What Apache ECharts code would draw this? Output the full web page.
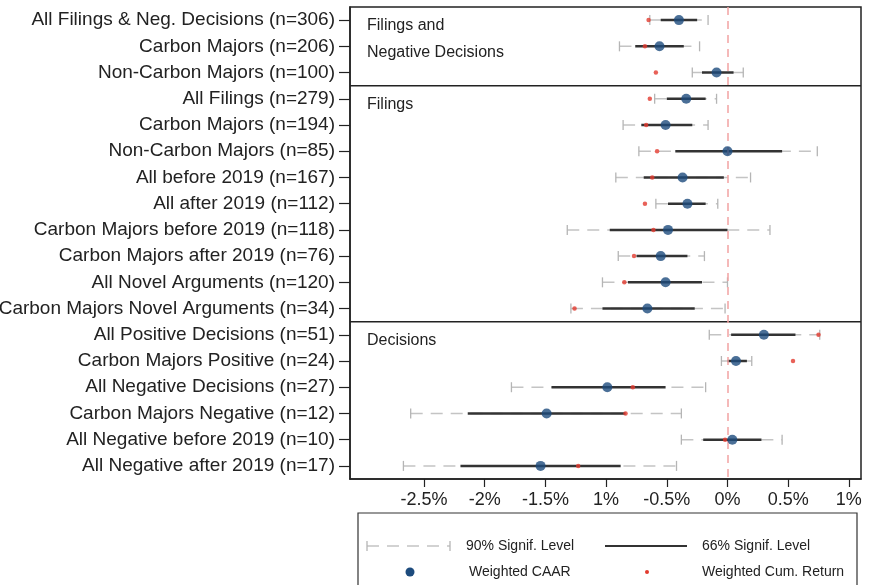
<!DOCTYPE html>
<html>
<head>
<meta charset="utf-8">
<script src="https://cdn.jsdelivr.net/npm/echarts@6/dist/echarts.min.js"></script>
<style>html,body{margin:0;padding:0;background:#fff;}#c{width:871px;height:585px;}</style>
</head>
<body>
<div id="c"></div>
<script>
var categories = [
  "All Filings & Neg. Decisions (n=306)",
  "Carbon Majors (n=206)",
  "Non-Carbon Majors (n=100)",
  "All Filings (n=279)",
  "Carbon Majors (n=194)",
  "Non-Carbon Majors (n=85)",
  "All before 2019 (n=167)",
  "All after 2019 (n=112)",
  "Carbon Majors before 2019 (n=118)",
  "Carbon Majors after 2019 (n=76)",
  "All Novel Arguments (n=120)",
  "Carbon Majors Novel Arguments (n=34)",
  "All Positive Decisions (n=51)",
  "Carbon Majors Positive (n=24)",
  "All Negative Decisions (n=27)",
  "Carbon Majors Negative (n=12)",
  "All Negative before 2019 (n=10)",
  "All Negative after 2019 (n=17)"
];
var caar   = [-0.40,-0.56,-0.09,-0.34,-0.51, 0.00,-0.37,-0.33,-0.49,-0.55,-0.51,-0.66, 0.30, 0.07,-0.99,-1.49, 0.04,-1.54];
var cumRet = [-0.65,-0.68,-0.59,-0.64,-0.67,-0.58,-0.62,-0.68,-0.61,-0.77,-0.85,-1.26, 0.75, 0.54,-0.78,-0.84,-0.02,-1.23];
var lo66   = [-0.55,-0.76,-0.21,-0.50,-0.71,-0.43,-0.69,-0.49,-0.97,-0.75,-0.82,-1.03, 0.03, 0.00,-1.45,-2.14,-0.20,-2.20];
var hi66   = [-0.25,-0.36, 0.05,-0.18,-0.29, 0.45,-0.03,-0.18, 0.00,-0.33,-0.21,-0.27, 0.56, 0.16,-0.51,-0.84, 0.28,-0.88];
var lo90   = [-0.64,-0.89,-0.29,-0.60,-0.86,-0.73,-0.92,-0.59,-1.32,-0.90,-1.03,-1.29,-0.15,-0.05,-1.78,-2.61,-0.38,-2.67];
var hi90   = [-0.16,-0.23, 0.13,-0.09,-0.16, 0.74, 0.19,-0.08, 0.35,-0.19, 0.00,-0.02, 0.76, 0.20,-0.18,-0.38, 0.45,-0.42];
var panelNames = ["Filings and\nNegative Decisions", "Filings", "Decisions"];
var panelSizes = [3, 9, 6];
var tickValues = [-2.5, -2, -1.5, -1, -0.5, 0, 0.5, 1];
var tickLabels = ["-2.5%", "-2%", "-1.5%", "1%", "-0.5%", "0%", "0.5%", "1%"];
var legendLabels = ["90% Signif. Level", "66% Signif. Level", "Weighted CAAR", "Weighted Cum. Return"];

var FONT = '"Liberation Sans", Arial, Helvetica, sans-serif';
var BLUE = '#1d4b7d', RED = '#e23a2e', DARK = '#333333', GRAY = '#c4c4c4', PINK = '#f2a3a3';
var XMIN = -3.11, XMAX = 1.10;

var ciData = categories.map(function (c, i) { return [lo90[i], hi90[i], lo66[i], hi66[i], i]; });
var panelData = [];
var start = 0;
panelSizes.forEach(function (s, k) { panelData.push([start, start + s - 1, k]); start += s; });

var chart = echarts.init(document.getElementById('c'), null, {renderer: 'canvas'});
chart.setOption({
  animation: false,
  textStyle: {fontFamily: FONT},
  grid: {left: 350, right: 10, top: 7, bottom: 106, containLabel: false, outerBoundsMode: 'none', show: true, borderColor: '#222', borderWidth: 1.5, backgroundColor: 'transparent'},
  xAxis: {
    type: 'value', min: XMIN, max: XMAX,
    splitLine: {show: false},
    axisLine: {show: true, onZero: false, lineStyle: {color: '#222', width: 1.5}},
    axisTick: {show: true, length: 8, inside: false, customValues: tickValues, lineStyle: {color: '#222', width: 1.2}},
    axisLabel: {
      customValues: tickValues, fontSize: 18, color: '#222', margin: 12, fontFamily: FONT,
      formatter: function (v) {
        for (var i = 0; i < tickValues.length; i++) if (Math.abs(tickValues[i] - v) < 1e-9) return tickLabels[i];
        return '';
      }
    }
  },
  yAxis: {
    type: 'category', data: categories, inverse: true,
    axisLine: {show: true, onZero: false, lineStyle: {color: '#222', width: 1.5}},
    axisTick: {show: true, alignWithLabel: true, length: 11, lineStyle: {color: '#222', width: 1.2}},
    axisLabel: {fontSize: 19, color: '#222', margin: 15, fontFamily: FONT},
    splitLine: {show: false}
  },
  series: [
    {
      type: 'custom', name: 'panels', z: 1, silent: true,
      data: panelData,
      renderItem: function (params, api) {
        var s = api.value(0), k = api.value(2);
        var band = api.size([0, 1])[1];
        var top = api.coord([XMIN, s])[1] - band / 2;
        var left = api.coord([XMIN, s])[0];
        var right = api.coord([XMAX, s])[0];
        var children = [{
          type: 'text',
          style: {x: left + 17, y: top + 5.5, text: panelNames[k], fontSize: 16, fontFamily: FONT, fill: '#222', lineHeight: 27, verticalAlign: 'top', align: 'left'}
        }];
        if (k > 0) {
          children.push({type: 'line', shape: {x1: left, y1: top, x2: right, y2: top}, style: {stroke: '#222', lineWidth: 1.5}});
        }
        return {type: 'group', children: children};
      },
      markLine: {
        silent: true, symbol: 'none', label: {show: false},
        lineStyle: {color: PINK, type: [8, 6], width: 1.5},
        data: [{xAxis: 0}]
      }
    },
    {
      type: 'custom', name: 'ci', z: 3, silent: true,
      data: ciData,
      renderItem: function (params, api) {
        var idx = api.value(4);
        var p90a = api.coord([api.value(0), idx]);
        var p90b = api.coord([api.value(1), idx]);
        var p66a = api.coord([api.value(2), idx]);
        var p66b = api.coord([api.value(3), idx]);
        var y = p90a[1], h = 5;
        return {type: 'group', children: [
          {type: 'line', shape: {x1: p90a[0], y1: y, x2: p90b[0], y2: y}, style: {stroke: GRAY, lineWidth: 1.5, lineDash: [12, 8]}},
          {type: 'line', shape: {x1: p90a[0], y1: y - h, x2: p90a[0], y2: y + h}, style: {stroke: '#b5b5b5', lineWidth: 1.3}},
          {type: 'line', shape: {x1: p90b[0], y1: y - h, x2: p90b[0], y2: y + h}, style: {stroke: '#b5b5b5', lineWidth: 1.3}},
          {type: 'line', shape: {x1: p66a[0], y1: y, x2: p66b[0], y2: y}, style: {stroke: DARK, lineWidth: 2.5}}
        ]};
      }
    },
    {
      type: 'scatter', name: 'Weighted Cum. Return', z: 4, silent: true,
      symbol: 'circle', symbolSize: 4.5,
      itemStyle: {color: RED},
      data: cumRet.map(function (v, i) { return [v, i]; })
    },
    {
      type: 'scatter', name: 'Weighted CAAR', z: 5, silent: true,
      symbol: 'circle', symbolSize: 10,
      itemStyle: {color: BLUE},
      data: caar.map(function (v, i) { return [v, i]; })
    }
  ],
  graphic: [
    {type: 'rect', shape: {x: 358, y: 513, width: 499, height: 100}, style: {fill: 'none', stroke: '#333', lineWidth: 1.2}, silent: true},
    {type: 'line', shape: {x1: 367, y1: 546, x2: 450, y2: 546}, style: {stroke: GRAY, lineWidth: 1.5, lineDash: [12, 8]}, silent: true},
    {type: 'line', shape: {x1: 367, y1: 541, x2: 367, y2: 551}, style: {stroke: '#b5b5b5', lineWidth: 1.3}, silent: true},
    {type: 'line', shape: {x1: 450, y1: 541, x2: 450, y2: 551}, style: {stroke: '#b5b5b5', lineWidth: 1.3}, silent: true},
    {type: 'text', style: {x: 466, y: 546, text: legendLabels[0], fontSize: 14, fontFamily: FONT, fill: '#222', verticalAlign: 'middle'}, silent: true},
    {type: 'line', shape: {x1: 605, y1: 546, x2: 687, y2: 546}, style: {stroke: DARK, lineWidth: 2}, silent: true},
    {type: 'text', style: {x: 702, y: 546, text: legendLabels[1], fontSize: 14, fontFamily: FONT, fill: '#222', verticalAlign: 'middle'}, silent: true},
    {type: 'circle', shape: {cx: 410, cy: 572, r: 4.5}, style: {fill: BLUE}, silent: true},
    {type: 'text', style: {x: 469, y: 572, text: legendLabels[2], fontSize: 14, fontFamily: FONT, fill: '#222', verticalAlign: 'middle'}, silent: true},
    {type: 'circle', shape: {cx: 647, cy: 572, r: 2}, style: {fill: RED}, silent: true},
    {type: 'text', style: {x: 702, y: 572, text: legendLabels[3], fontSize: 14, fontFamily: FONT, fill: '#222', verticalAlign: 'middle'}, silent: true}
  ]
});
</script>
</body>
</html>
